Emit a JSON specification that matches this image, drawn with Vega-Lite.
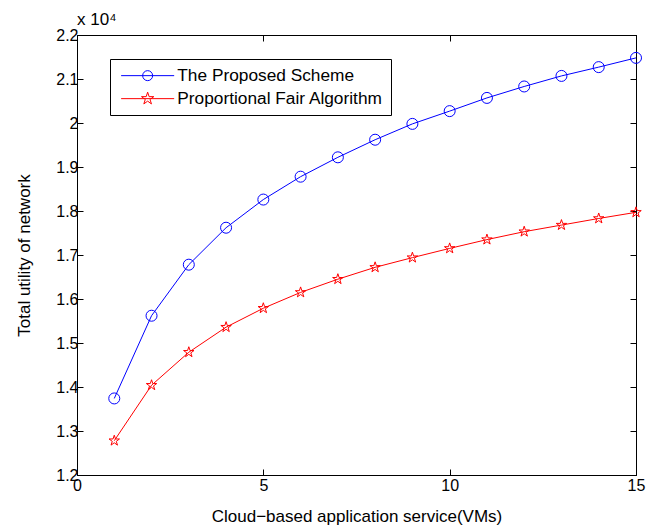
{
  "$schema": "https://vega.github.io/schema/vega-lite/v6.json",
  "width": 559,
  "height": 440,
  "autosize": {"type": "none"},
  "padding": {"left": 77, "top": 35, "right": 21, "bottom": 51},
  "background": "white",
  "config": {
    "font": "Liberation Sans",
    "view": {"stroke": "black", "strokeWidth": 1},
    "axis": {
      "grid": false,
      "domainColor": "black",
      "tickColor": "black",
      "labelColor": "black",
      "titleColor": "black",
      "labelFont": "Liberation Sans",
      "titleFont": "Liberation Sans",
      "labelFontSize": 16,
      "titleFontSize": 17,
      "titleFontWeight": "normal",
      "tickSize": -6,
      "domainWidth": 1,
      "tickWidth": 1
    }
  },
  "data": {
    "values": [
      {"x": 1, "y": 13740, "s": "The Proposed Scheme"},
      {"x": 2, "y": 15620, "s": "The Proposed Scheme"},
      {"x": 3, "y": 16780, "s": "The Proposed Scheme"},
      {"x": 4, "y": 17620, "s": "The Proposed Scheme"},
      {"x": 5, "y": 18260, "s": "The Proposed Scheme"},
      {"x": 6, "y": 18780, "s": "The Proposed Scheme"},
      {"x": 7, "y": 19220, "s": "The Proposed Scheme"},
      {"x": 8, "y": 19620, "s": "The Proposed Scheme"},
      {"x": 9, "y": 19980, "s": "The Proposed Scheme"},
      {"x": 10, "y": 20270, "s": "The Proposed Scheme"},
      {"x": 11, "y": 20570, "s": "The Proposed Scheme"},
      {"x": 12, "y": 20830, "s": "The Proposed Scheme"},
      {"x": 13, "y": 21070, "s": "The Proposed Scheme"},
      {"x": 14, "y": 21270, "s": "The Proposed Scheme"},
      {"x": 15, "y": 21480, "s": "The Proposed Scheme"},
      {"x": 1, "y": 12780, "s": "Proportional Fair Algorithm"},
      {"x": 2, "y": 14040, "s": "Proportional Fair Algorithm"},
      {"x": 3, "y": 14790, "s": "Proportional Fair Algorithm"},
      {"x": 4, "y": 15360, "s": "Proportional Fair Algorithm"},
      {"x": 5, "y": 15790, "s": "Proportional Fair Algorithm"},
      {"x": 6, "y": 16150, "s": "Proportional Fair Algorithm"},
      {"x": 7, "y": 16450, "s": "Proportional Fair Algorithm"},
      {"x": 8, "y": 16720, "s": "Proportional Fair Algorithm"},
      {"x": 9, "y": 16940, "s": "Proportional Fair Algorithm"},
      {"x": 10, "y": 17150, "s": "Proportional Fair Algorithm"},
      {"x": 11, "y": 17350, "s": "Proportional Fair Algorithm"},
      {"x": 12, "y": 17530, "s": "Proportional Fair Algorithm"},
      {"x": 13, "y": 17680, "s": "Proportional Fair Algorithm"},
      {"x": 14, "y": 17830, "s": "Proportional Fair Algorithm"},
      {"x": 15, "y": 17970, "s": "Proportional Fair Algorithm"}
    ]
  },
  "layer": [
    {
      "mark": {"type": "line", "strokeWidth": 1},
      "encoding": {
        "x": {
          "field": "x",
          "type": "quantitative",
          "scale": {"domain": [0, 15], "nice": false, "zero": false},
          "axis": {
            "orient": "bottom",
            "values": [0, 5, 10, 15],
            "title": "Cloud−based application service(VMs)",
            "labelPadding": 8,
            "titlePadding": 15,
            "labelFlush": false
          }
        },
        "y": {
          "field": "y",
          "type": "quantitative",
          "scale": {"domain": [12000, 22000], "nice": false, "zero": false},
          "axis": {
            "orient": "left",
            "values": [12000, 13000, 14000, 15000, 16000, 17000, 18000, 19000, 20000, 21000, 22000],
            "labelExpr": "format(datum.value/10000, '~g')",
            "title": "Total utility of network",
            "labelPadding": 5,
            "titlePadding": 22
          }
        },
        "color": {
          "field": "s",
          "type": "nominal",
          "scale": {
            "domain": ["The Proposed Scheme", "Proportional Fair Algorithm"],
            "range": ["#0000ff", "#ff0000"]
          },
          "legend": {
            "title": null,
            "orient": "none",
            "legendX": 33,
            "legendY": 24,
            "strokeColor": "black",
            "fillColor": "white",
            "padding": 8,
            "symbolSize": 121,
            "symbolOffset": 21,
            "labelOffset": 21,
            "labelFontSize": 17.3,
            "labelFont": "Liberation Sans",
            "labelColor": "black",
            "labelLimit": 0,
            "rowPadding": 5,
            "symbolStrokeWidth": 1,
            "cornerRadius": 0,
            "encode": {
              "symbols": {
                "update": {
                  "shape": {"signal": "datum.value === 'The Proposed Scheme' ? 'M-4.82,0L4.82,0M0.91,0A0.91,0.91 0 1,1 -0.91,0A0.91,0.91 0 1,1 0.91,0' : 'M-4.82,0L4.82,0M0,-1.18L0.265,-0.365L1.122,-0.365L0.428,0.139L0.694,0.955L0,0.451L-0.694,0.955L-0.428,0.139L-1.122,-0.365L-0.265,-0.365Z'"},
                  "fill": {"value": "transparent"},
                  "strokeWidth": {"value": 1}
                }
              }
            }
          }
        }
      }
    },
    {
      "transform": [{"filter": "datum.s === 'The Proposed Scheme'"}],
      "mark": {"type": "point", "shape": "circle", "filled": false, "size": 121, "strokeWidth": 1, "opacity": 1},
      "encoding": {
        "x": {
          "field": "x",
          "type": "quantitative",
          "scale": {"domain": [0, 15], "nice": false, "zero": false},
          "axis": {"orient": "top", "values": [0, 5, 10, 15], "labels": false, "title": null}
        },
        "y": {
          "field": "y",
          "type": "quantitative",
          "scale": {"domain": [12000, 22000], "nice": false, "zero": false},
          "axis": {
            "orient": "right",
            "values": [12000, 13000, 14000, 15000, 16000, 17000, 18000, 19000, 20000, 21000, 22000],
            "labels": false,
            "title": null
          }
        },
        "color": {"field": "s", "type": "nominal"}
      }
    },
    {
      "transform": [{"filter": "datum.s === 'Proportional Fair Algorithm'"}],
      "mark": {"type": "point", "shape": "M0,-1L0.2245,-0.309L0.951,-0.309L0.363,0.118L0.588,0.809L0,0.382L-0.588,0.809L-0.363,0.118L-0.951,-0.309L-0.2245,-0.309Z", "filled": false, "size": 121, "strokeWidth": 1, "opacity": 1},
      "encoding": {
        "x": {"field": "x", "type": "quantitative", "scale": {"domain": [0, 15], "nice": false, "zero": false}, "axis": null},
        "y": {"field": "y", "type": "quantitative", "scale": {"domain": [12000, 22000], "nice": false, "zero": false}, "axis": null},
        "color": {"field": "s", "type": "nominal"}
      }
    },
    {
      "data": {"values": [{"t": "x 10⁴", "x": 0, "y": 22000}]},
      "mark": {"type": "text", "align": "left", "baseline": "alphabetic", "dy": -10, "fontSize": 17, "font": "Liberation Sans", "color": "black", "clip": false},
      "encoding": {
        "x": {"field": "x", "type": "quantitative", "axis": null},
        "y": {"field": "y", "type": "quantitative", "axis": null},
        "text": {"field": "t", "type": "nominal"}
      }
    }
  ],
  "resolve": {"axis": {"x": "independent", "y": "independent"}}
}
